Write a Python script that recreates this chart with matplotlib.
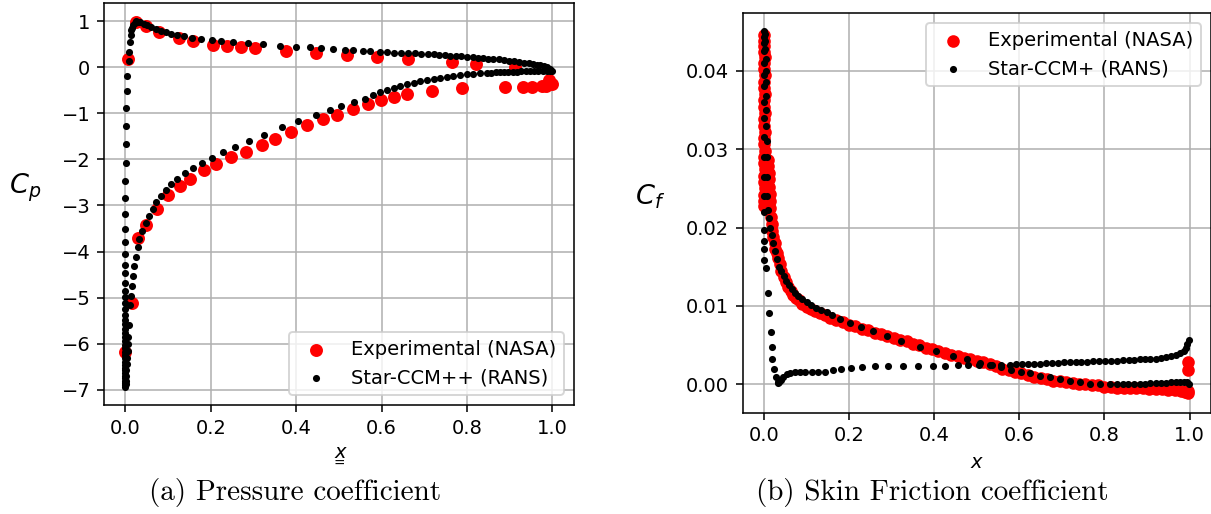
import matplotlib.pyplot as plt

# ---- pressure coefficient, experiment ----
cp_exp_x = [0.000, 0.015, 0.030, 0.049, 0.074, 0.100, 0.127, 0.151, 0.183, 0.213,
            0.248, 0.282, 0.319, 0.350, 0.388, 0.426, 0.462, 0.496, 0.532, 0.568,
            0.599, 0.629, 0.659, 0.719, 0.788, 0.888, 0.931, 0.953, 0.976, 0.986,
            0.991, 1.000,
            0.007, 0.026, 0.048, 0.079, 0.125, 0.158, 0.206, 0.237, 0.270, 0.304,
            0.376, 0.447, 0.518, 0.590, 0.661, 0.765, 0.820, 0.912]
cp_exp = [-6.19, -5.12, -3.70, -3.43, -3.08, -2.78, -2.57, -2.43, -2.24, -2.10,
          -1.94, -1.83, -1.69, -1.56, -1.40, -1.25, -1.13, -1.03, -0.90, -0.80,
          -0.71, -0.64, -0.58, -0.51, -0.46, -0.42, -0.42, -0.42, -0.41, -0.40,
          -0.27, -0.36,
          0.17, 0.98, 0.90, 0.77, 0.63, 0.56, 0.48, 0.46, 0.43, 0.41,
          0.36, 0.31, 0.26, 0.22, 0.175, 0.115, 0.08, 0.00]

# ---- pressure coefficient, Star-CCM+ (TE lower -> LE -> TE upper) ----
cp_cfd_x = [1.000, 0.995, 0.988, 0.980, 0.972, 0.964, 0.955, 0.945, 0.933, 0.922,
            0.910, 0.898, 0.886, 0.874, 0.862, 0.850, 0.838, 0.826, 0.813, 0.800,
            0.787, 0.774, 0.761, 0.748, 0.735, 0.722, 0.708, 0.693, 0.678, 0.662,
            0.645, 0.628, 0.612, 0.596, 0.574, 0.556, 0.534, 0.514, 0.487, 0.457,
            0.433, 0.399, 0.363, 0.322, 0.287, 0.253, 0.225, 0.202, 0.177, 0.157,
            0.137, 0.122, 0.108, 0.096, 0.083, 0.071, 0.060, 0.050, 0.043, 0.035,
            0.030, 0.026, 0.022, 0.019, 0.016, 0.014, 0.012, 0.010, 0.009, 0.008,
            0.004, 0.003, 0.002, 0.002, 0.001, 0.001, 0.000, 0.000,
            0.000, 0.000, 0.000, 0.000, 0.000, 0.000, 0.000, 0.000, 0.000, 0.000,
            0.000, 0.000, 0.000, 0.000, 0.000, 0.000, 0.000, 0.000, 0.000, 0.000,
            0.000, 0.000, 0.000, 0.000, 0.000, 0.000, 0.000, 0.000, 0.000, 0.000,
            0.000, 0.000, 0.000, 0.000,
            0.001, 0.001, 0.002, 0.002, 0.003, 0.004, 0.005, 0.006, 0.007, 0.008,
            0.011, 0.013, 0.016, 0.018, 0.021, 0.024, 0.029, 0.032, 0.040, 0.048,
            0.056, 0.064, 0.072, 0.083, 0.094, 0.107, 0.122, 0.140, 0.158, 0.179,
            0.202, 0.228, 0.257, 0.290, 0.325, 0.366, 0.405, 0.447, 0.478, 0.505,
            0.536, 0.561, 0.580, 0.597, 0.612, 0.628, 0.643, 0.659, 0.675, 0.690,
            0.706, 0.722, 0.737, 0.753, 0.768, 0.784, 0.800, 0.815, 0.831, 0.847,
            0.857, 0.867, 0.877, 0.887, 0.897, 0.907, 0.917, 0.927, 0.937, 0.947,
            0.957, 0.967, 0.977, 0.987, 0.995]
cp_cfd = [-0.07, -0.03, 0.00, 0.02, 0.04, 0.05, 0.07, 0.085, 0.10, 0.115,
          0.13, 0.145, 0.155, 0.17, 0.18, 0.19, 0.20, 0.21, 0.22, 0.23,
          0.24, 0.25, 0.255, 0.26, 0.27, 0.28, 0.285, 0.29, 0.30, 0.305,
          0.31, 0.32, 0.325, 0.34, 0.35, 0.36, 0.365, 0.38, 0.39, 0.41,
          0.43, 0.45, 0.47, 0.50, 0.52, 0.54, 0.57, 0.59, 0.61, 0.64,
          0.68, 0.70, 0.72, 0.76, 0.79, 0.83, 0.87, 0.91, 0.95, 0.98,
          0.99, 1.00, 0.97, 0.92, 0.86, 0.81, 0.70, 0.54, 0.33, 0.14,
          -0.19, -0.51, -0.88, -1.27, -1.67, -2.07, -2.47, -2.84,
          -3.19, -3.51, -3.80, -4.06, -4.29, -4.47, -4.69, -4.85, -4.98, -5.12,
          -5.25, -5.37, -5.48, -5.58, -5.68, -5.77, -5.86, -5.94, -6.02, -6.10,
          -6.18, -6.25, -6.32, -6.39, -6.46, -6.52, -6.58, -6.64, -6.70, -6.75,
          -6.80, -6.85, -6.89, -6.93,
          -6.88, -6.80, -6.70, -6.58, -6.45, -6.30, -6.15, -6.00, -5.85, -5.60,
          -5.16, -4.96, -4.74, -4.53, -4.31, -4.11, -3.91, -3.73, -3.55, -3.38,
          -3.23, -3.08, -2.93, -2.79, -2.66, -2.54, -2.42, -2.30, -2.19, -2.08,
          -1.96, -1.84, -1.72, -1.59, -1.46, -1.30, -1.16, -1.03, -0.92, -0.85,
          -0.75, -0.68, -0.61, -0.54, -0.49, -0.44, -0.41, -0.37, -0.34, -0.30,
          -0.28, -0.25, -0.24, -0.22, -0.19, -0.17, -0.15, -0.14, -0.12, -0.12,
          -0.115, -0.11, -0.11, -0.105, -0.10, -0.10, -0.095, -0.09, -0.09, -0.085,
          -0.085, -0.08, -0.08, -0.075, -0.07]

# ---- skin friction, experiment ----
cf_exp_x = [0.000, 0.001, 0.000, 0.001, 0.002, 0.000, 0.001, 0.002, 0.000, 0.001,
            0.002, 0.000, 0.001, 0.002, 0.000, 0.001, 0.002, 0.000, 0.001, 0.002,
            0.000, 0.001, 0.002, 0.000, 0.001, 0.002, 0.000, 0.001, 0.000,
            0.010, 0.010, 0.011, 0.011, 0.012, 0.013, 0.014, 0.015, 0.016, 0.018,
            0.020, 0.022, 0.025, 0.027, 0.030, 0.033, 0.037, 0.041, 0.046, 0.051,
            0.057, 0.063, 0.069, 0.075, 0.082, 0.090, 0.100, 0.110, 0.120, 0.131,
            0.143, 0.156, 0.170, 0.185, 0.200, 0.215, 0.230, 0.245, 0.260, 0.275,
            0.290, 0.305, 0.320, 0.335, 0.350, 0.365, 0.380, 0.395, 0.410, 0.425,
            0.440, 0.455, 0.470, 0.485, 0.500, 0.515, 0.530, 0.545, 0.560, 0.575,
            0.590, 0.605, 0.620, 0.635, 0.650, 0.665, 0.680, 0.695, 0.710, 0.725,
            0.740, 0.755, 0.770, 0.785, 0.800, 0.815, 0.830, 0.845, 0.860, 0.875,
            0.890, 0.905, 0.920, 0.935, 0.950, 0.965, 0.980, 0.990, 0.996, 0.996,
            0.996, 0.996]
cf_exp = [0.0445, 0.0438, 0.0431, 0.0424, 0.0417, 0.0410, 0.0402, 0.0394, 0.0386, 0.0378,
          0.0370, 0.0362, 0.0354, 0.0346, 0.0338, 0.0330, 0.0322, 0.0314, 0.0306, 0.0298,
          0.0290, 0.0282, 0.0274, 0.0266, 0.0258, 0.0250, 0.0242, 0.0234, 0.0227,
          0.0286, 0.0278, 0.0270, 0.0262, 0.0252, 0.0243, 0.0234, 0.0225, 0.0214, 0.0205,
          0.0196, 0.0188, 0.0180, 0.0173, 0.0167, 0.0161, 0.0153, 0.0144, 0.0137, 0.0131,
          0.0124, 0.0119, 0.0114, 0.0110, 0.0107, 0.0103, 0.0099, 0.0096, 0.0093, 0.0091,
          0.0088, 0.0085, 0.0082, 0.0079, 0.0076, 0.0074, 0.0071, 0.0069, 0.0066, 0.0064,
          0.0062, 0.0059, 0.0057, 0.0055, 0.0052, 0.0050, 0.0047, 0.0045, 0.0042, 0.0040,
          0.0038, 0.0036, 0.0034, 0.0032, 0.0030, 0.0028, 0.0026, 0.0024, 0.0020, 0.0018,
          0.0016, 0.0014, 0.0012, 0.0010, 0.0008, 0.0007, 0.0005, 0.0004, 0.0003, 0.0002,
          0.0001, 0.0000, -0.0001, -0.0001, -0.0003, -0.0003, -0.0004, -0.0004, -0.0005, -0.0005,
          -0.0005, -0.0006, -0.0006, -0.0006, -0.0007, -0.0007, -0.0008, -0.0009, -0.0011, -0.0008,
          0.0018, 0.0029]

# ---- skin friction, Star-CCM+ (TE lower -> stagnation -> LE -> TE upper) ----
cf_cfd_x = [0.998, 0.995, 0.992, 0.986, 0.977, 0.967, 0.956, 0.945, 0.933, 0.921,
            0.908, 0.896, 0.883, 0.870, 0.857, 0.844, 0.830, 0.816, 0.802, 0.788,
            0.774, 0.760, 0.746, 0.732, 0.718, 0.704, 0.690, 0.676, 0.662, 0.648,
            0.634, 0.620, 0.606, 0.592, 0.578, 0.556, 0.531, 0.505, 0.480, 0.455,
            0.426, 0.397, 0.362, 0.326, 0.291, 0.260, 0.231, 0.205, 0.182, 0.161,
            0.143, 0.128, 0.112, 0.096, 0.085, 0.073, 0.061, 0.053, 0.045, 0.040,
            0.036, 0.034, 0.032, 0.028, 0.023, 0.020, 0.018, 0.016, 0.012, 0.010,
            0.005, 0.001, 0.000, 0.001, 0.000, 0.000,
            0.000, 0.000, 0.000, 0.000, 0.000, 0.000, 0.000, 0.000, 0.000, 0.000,
            0.000, 0.000, 0.001,
            0.002, 0.003, 0.003, 0.004, 0.004, 0.004, 0.005, 0.005, 0.005, 0.006,
            0.006, 0.007, 0.008,
            0.010, 0.012, 0.015, 0.018, 0.022, 0.026, 0.031, 0.036, 0.041, 0.046,
            0.052, 0.058, 0.065, 0.073, 0.081, 0.090, 0.100, 0.111, 0.122, 0.134,
            0.147, 0.160, 0.178, 0.202, 0.229, 0.256, 0.288, 0.323, 0.366, 0.405,
            0.444, 0.478, 0.507, 0.535, 0.556, 0.581, 0.605, 0.625, 0.648, 0.671,
            0.695, 0.718, 0.742, 0.765, 0.789, 0.812, 0.830, 0.843, 0.856, 0.870,
            0.883, 0.895, 0.908, 0.920, 0.932, 0.945, 0.957, 0.968, 0.978, 0.987,
            0.994, 0.998]
cf_cfd = [0.0057, 0.0051, 0.0046, 0.0043, 0.0040, 0.0038, 0.0036, 0.0035, 0.0034, 0.0033,
          0.00325, 0.0032, 0.0032, 0.00315, 0.0031, 0.0031, 0.00305, 0.0030, 0.0030, 0.0030,
          0.00295, 0.0029, 0.0029, 0.00285, 0.0028, 0.0028, 0.00275, 0.0027, 0.0027, 0.00265,
          0.0026, 0.0026, 0.0026, 0.00255, 0.0025, 0.0025, 0.0025, 0.0025, 0.0025, 0.0025,
          0.0024, 0.0024, 0.0024, 0.0023, 0.0023, 0.0023, 0.0022, 0.0021, 0.0020, 0.0018,
          0.0016, 0.0016, 0.0016, 0.0016, 0.0016, 0.0016, 0.0015, 0.0013, 0.0010, 0.0006,
          0.0003, 0.0002, 0.0003, 0.0010, 0.0020, 0.0033, 0.0048, 0.0067, 0.0091, 0.0116,
          0.0148, 0.0158, 0.0172, 0.0183, 0.0197, 0.0220,
          0.0240, 0.0265, 0.0290, 0.0315, 0.0340, 0.0360, 0.0380, 0.0395, 0.0410, 0.0425,
          0.0435, 0.0443, 0.0450,
          0.0446, 0.0438, 0.0428, 0.0415, 0.0400, 0.0385, 0.0368, 0.0350, 0.0330, 0.0310,
          0.0290, 0.0265, 0.0240,
          0.0222, 0.0212, 0.0200, 0.0190, 0.0180, 0.0170, 0.0160, 0.0150, 0.0144, 0.0138,
          0.0132, 0.0127, 0.0122, 0.0117, 0.0113, 0.0109, 0.0105, 0.0101, 0.0098, 0.0095,
          0.0092, 0.0088, 0.0084, 0.0078, 0.0073, 0.0068, 0.0062, 0.0056, 0.0048, 0.0042,
          0.0036, 0.0032, 0.0027, 0.0025, 0.0022, 0.0019, 0.0016, 0.0014, 0.0011, 0.0009,
          0.0007, 0.0005, 0.0003, 0.0001, 0.0000, 0.0000, 0.0000, 0.0000, 0.0000, 0.0001,
          0.0001, 0.0001, 0.0002, 0.0002, 0.0002, 0.0002, 0.0003, 0.0003, 0.0003, 0.0003,
          0.0003, 0.0001]

fig = plt.figure(figsize=(1211 / 140, 514 / 140), dpi=140)

# (a) pressure coefficient
ax1 = fig.add_axes([0.0859, 0.2121, 0.3879, 0.7825])
ax1.scatter(cp_exp_x, cp_exp, s=32, color='red', label='Experimental (NASA)', zorder=2)
ax1.scatter(cp_cfd_x, cp_cfd, s=7, color='black', label='Star-CCM++ (RANS)', zorder=3)
ax1.set_xlim(-0.05, 1.05)
ax1.set_ylim(-7.33, 1.40)
ax1.set_xticks([0, 0.2, 0.4, 0.6, 0.8, 1.0])
ax1.set_yticks(range(-7, 2))
ax1.grid(True)
ax1.set_axisbelow(True)
ax1.set_xlabel(r'$\underset{=}{x}$')
ax1.set_ylabel(r'$C_p$', rotation=0, fontsize=14, ha='center', va='center')
ax1.yaxis.set_label_coords(-0.169, 0.54)
ax1.legend(loc='lower right')

# (b) skin friction coefficient
ax2 = fig.add_axes([0.6133, 0.1971, 0.3866, 0.7770])
ax2.scatter(cf_exp_x, cf_exp, s=30, color='red', label='Experimental (NASA)', zorder=2)
ax2.scatter(cf_cfd_x, cf_cfd, s=7, color='black', label='Star-CCM+ (RANS)', zorder=3)
ax2.set_xlim(-0.05, 1.05)
ax2.set_ylim(-0.0036, 0.0473)
ax2.set_xticks([0, 0.2, 0.4, 0.6, 0.8, 1.0])
ax2.set_yticks([0.00, 0.01, 0.02, 0.03, 0.04])
ax2.grid(True)
ax2.set_axisbelow(True)
ax2.set_xlabel(r'$x$')
ax2.set_ylabel(r'$C_f$', rotation=0, fontsize=14, ha='center', va='center')
ax2.yaxis.set_label_coords(-0.198, 0.54)
ax2.legend(loc='upper right')

fig.text(0.2436, 0.041, '(a) Pressure coefficient', ha='center', va='center',
         fontsize=15, family='cmr10')
fig.text(0.7696, 0.041, '(b) Skin Friction coefficient', ha='center', va='center',
         fontsize=15, family='cmr10')

plt.savefig('out.png', dpi=140)
